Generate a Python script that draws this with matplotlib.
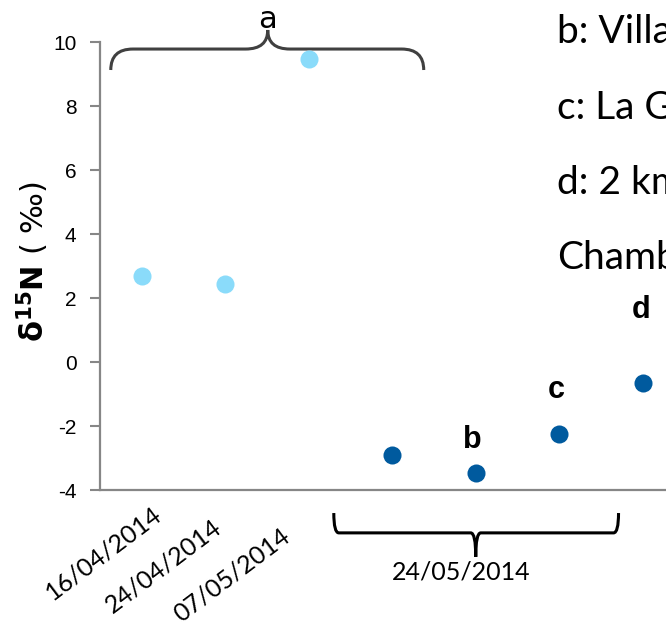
import numpy as np
import matplotlib
matplotlib.use("Agg")
import matplotlib.pyplot as plt
from matplotlib.path import Path
from matplotlib.patches import PathPatch

# ---------------- data ----------------
early_dates = ["16/04/2014", "24/04/2014", "07/05/2014"]
early_values = [2.68, 2.44, 9.48]
late_date = "24/05/2014"
late_values = [-2.91, -3.48, -2.25, -0.66]
late_letters = ["", "b", "c", "d"]
group_a_letter = "a"
legend_lines = ["b: Villa", "c: La G", "d: 2 km", "Chamb"]
yticks = [-4, -2, 0, 2, 4, 6, 8, 10]

light = "#8ADBFA"
dark = "#005A9E"
grey = "#868686"

fig = plt.figure(figsize=(6.66, 6.25), dpi=100)
ax = fig.add_axes([100 / 666, 135 / 625, 566 / 666, 448 / 625])

x_early = np.arange(len(early_values))
x_late = np.arange(len(late_values)) + len(early_values)

ax.plot(x_early, early_values, "o", ms=13, color=light, mec="none", clip_on=False)
ax.plot(x_late, late_values, "o", ms=13, color=dark, mec="none", clip_on=False)

ax.set_xlim(-0.5, -0.5 + 566 / 83.5)
ax.set_ylim(-4, 10)
ax.set_yticks(yticks)
ax.set_yticklabels([str(v) for v in yticks],
                   family=["Liberation Sans Narrow", "Liberation Sans"], fontsize=15)
ax.set_xticks([])
for s in ["top", "right"]:
    ax.spines[s].set_visible(False)
for s in ["left", "bottom"]:
    ax.spines[s].set_color(grey)
    ax.spines[s].set_linewidth(1.6)
ax.tick_params(axis="y", direction="out", length=7, width=1.5, color=grey, pad=10)

# y label
ax.set_ylabel(r"$\mathbf{\delta^{15}N}$ ( ‰)", fontsize=22)
ax.yaxis.label.set_va("center")
ax.yaxis.set_label_coords(-0.118, 0.509)

# rotated date labels (manually offset like the reference)
dx = [-0.455, -0.737, -0.922]
dy = [-5.97, -6.37, -6.66]
for i, lab in enumerate(early_dates):
    ax.text(x_early[i] + dx[i], dy[i], lab, rotation=37, ha="center", va="center",
            family="Lato", fontsize=18, clip_on=False)

# letters
lpos = {"b": (3.96, -2.69), "c": (4.97, -1.13), "d": (5.98, 1.38)}
for i, let in enumerate(late_letters):
    if let:
        ax.text(*lpos[let], let, ha="center", va="baseline", fontsize=22,
                fontweight="bold", family="Liberation Sans", clip_on=False)
ax.text(1.51, 10.44, group_a_letter, ha="center", va="baseline", fontsize=22,
        family="Liberation Sans Narrow", clip_on=False)


def brace_up(x0, x1, xc, y_end, y_line, y_tip, r):
    verts = [(x0, y_end), (x0, y_line), (x0 + r, y_line),
             (xc - r, y_line), (xc, y_line), (xc, y_tip),
             (xc, y_line), (xc + r, y_line),
             (x1 - r, y_line), (x1, y_line), (x1, y_end)]
    codes = [Path.MOVETO, Path.CURVE3, Path.CURVE3,
             Path.LINETO, Path.CURVE3, Path.CURVE3,
             Path.CURVE3, Path.CURVE3,
             Path.LINETO, Path.CURVE3, Path.CURVE3]
    return Path(verts, codes)


# group "a" brace
p = brace_up(-0.371, 3.377, 1.509, 9.125, 9.78, 10.375, 0.265)
ax.add_patch(PathPatch(p, fc="none", ec="#404040", lw=2.2, clip_on=False))

# 24/05 brace (opening upwards)
p2 = brace_up(2.30, 5.71, 4.0, -4.72, -5.34, -6.09, 0.06)
ax.add_patch(PathPatch(p2, fc="none", ec="black", lw=2.2, clip_on=False))
ax.text(3.82, -6.56, late_date, ha="center", va="center", family="Lato",
        fontsize=18, clip_on=False)

# right-side legend text (clipped by figure edge)
base_y = [43, 119, 194, 269]
for t, yb in zip(legend_lines, base_y):
    fig.text(557 / 666, 1 - yb / 625, t, ha="left", va="baseline",
             family="Lato", fontsize=28)

fig.savefig("out.png", dpi=100)
